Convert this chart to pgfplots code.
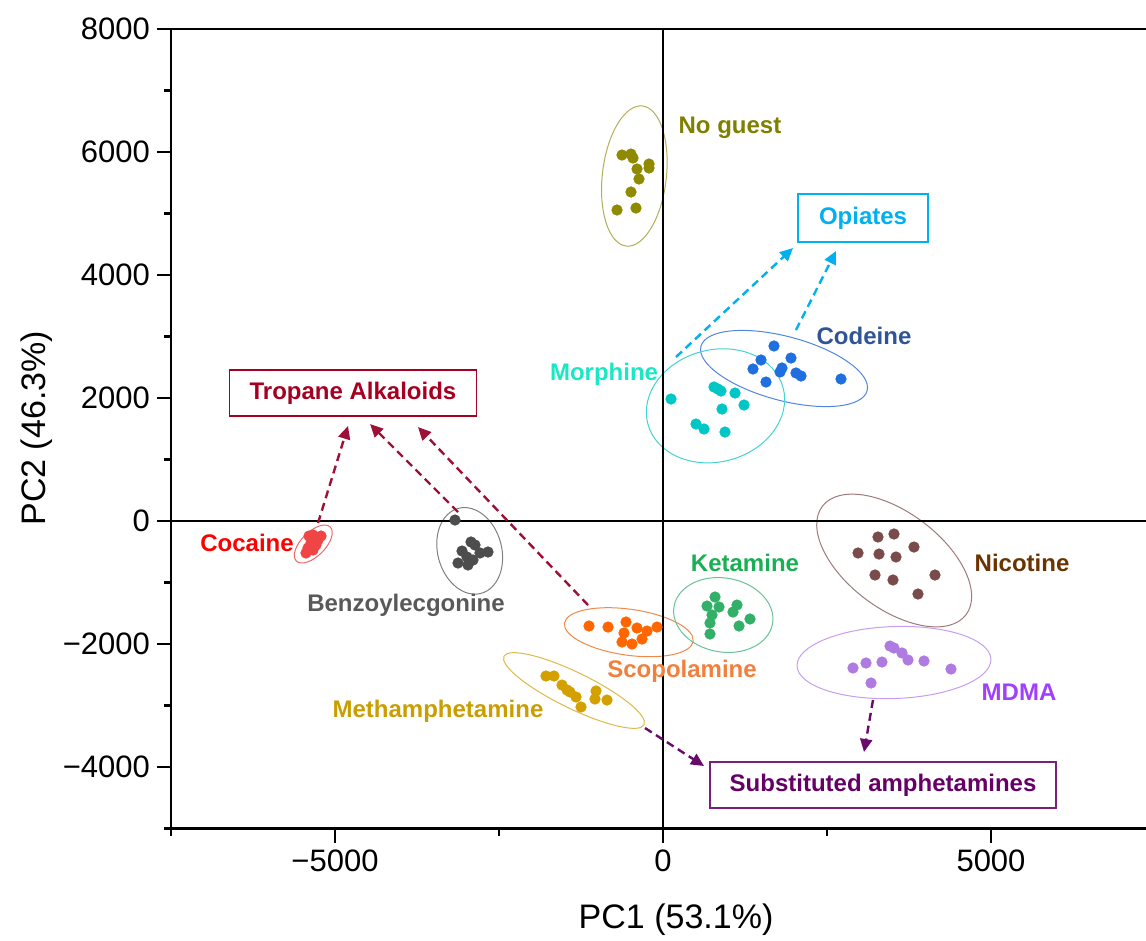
\documentclass[border=0pt]{standalone}
\usepackage{pgfplots}
\pgfplotsset{compat=1.18}
\usepackage{fontspec}
\setmainfont{Liberation Sans}
\usetikzlibrary{arrows.meta,shapes.geometric}

\definecolor{ngP}{HTML}{8F8A00}\definecolor{ngT}{HTML}{808000}\definecolor{ngE}{HTML}{B3AD5A}
\definecolor{opi}{HTML}{00B0F0}
\definecolor{coT}{HTML}{2F5597}\definecolor{coP}{HTML}{1F6FE0}\definecolor{coE}{HTML}{4F86E0}
\definecolor{moT}{HTML}{1AE8C4}\definecolor{moP}{HTML}{00C6C6}\definecolor{moE}{HTML}{45D2D2}
\definecolor{tro}{HTML}{A50021}\definecolor{troA}{HTML}{9E1035}
\definecolor{ccT}{HTML}{FF0000}\definecolor{ccP}{HTML}{F04545}\definecolor{ccE}{HTML}{F06666}
\definecolor{bzT}{HTML}{595959}\definecolor{bzP}{HTML}{4D4D4D}\definecolor{bzE}{HTML}{808080}
\definecolor{scT}{HTML}{F0803C}\definecolor{scP}{HTML}{FF6600}\definecolor{scE}{HTML}{F08848}
\definecolor{ktT}{HTML}{1AAF54}\definecolor{ktP}{HTML}{33B068}\definecolor{ktE}{HTML}{66C495}
\definecolor{mtT}{HTML}{C99E00}\definecolor{mtP}{HTML}{D4A000}\definecolor{mtE}{HTML}{DDB94A}
\definecolor{niT}{HTML}{6B3300}\definecolor{niP}{HTML}{7A4B4B}\definecolor{niE}{HTML}{A07A7A}
\definecolor{mdT}{HTML}{A040FF}\definecolor{mdP}{HTML}{B07BE0}\definecolor{mdE}{HTML}{C79DF0}
\definecolor{suT}{HTML}{660066}\definecolor{suB}{HTML}{7B1F7B}\definecolor{suA}{HTML}{6A0A6A}

\tikzset{
  lab/.style={font=\bfseries\fontsize{12}{14}\selectfont, inner sep=0pt},
  ell/.style={draw, ellipse, inner sep=0pt, line width=0.5pt},
  arr/.style={dashed, dash pattern=on 4pt off 2.5pt, line width=1.2pt, -{Triangle[length=6.5pt,width=6pt]}},
}

\begin{document}
\begin{tikzpicture}
\begin{axis}[
  scale only axis,
  width=487.5pt, height=399.75pt,
  xmin=-7500, xmax=7363, ymin=-5000, ymax=8000,
  clip=false,
  axis line style={draw=none},
  tick align=outside,
  xtick pos=bottom, ytick pos=left,
  major tick length=7pt, minor tick length=3.5pt,
  every tick/.style={black, line width=1.1pt},
  xtick={-5000,0,5000}, xticklabels={−5000,0,5000},
  ytick={-4000,-2000,0,2000,4000,6000,8000},
  yticklabels={−4000,−2000,0,2000,4000,6000,8000},
  minor xtick={-7500,-2500,2500},
  minor ytick={-5000,-3000,-1000,1000,3000,5000,7000},
  tick label style={font=\fontsize{15.5}{18}\selectfont},
  xlabel={PC1 (53.1\%)}, ylabel={PC2 (46.3\%)},
  label style={font=\fontsize{17}{20}\selectfont},
  xlabel style={at={(axis description cs:0.518,-0.114)}, anchor=center},
  ylabel style={at={(axis description cs:-0.1376,0.5006)}, anchor=center, rotate=0},
]
% frame (left, bottom, top)
\draw[black, line width=1.2pt] (rel axis cs:1,1) -- (rel axis cs:0,1) -- (rel axis cs:0,0) -- (rel axis cs:1,0);

% ellipses
\node[ell, draw=ngE, minimum width=70.5pt, minimum height=32pt, rotate=83.4] at (axis cs:-437,5610) {};
\node[ell, draw=coE, minimum width=86pt, minimum height=32pt, rotate=-15] at (axis cs:1845,2480) {};
\node[ell, draw=moE, minimum width=70pt, minimum height=56pt, rotate=15] at (axis cs:800,1873) {};
\node[ell, draw=ccE, minimum width=24pt, minimum height=12pt, rotate=45] at (axis cs:-5331,-374) {};
\node[ell, draw=bzE, minimum width=44pt, minimum height=32pt, rotate=105] at (axis cs:-2947,-485) {};
\node[ell, draw=scE, minimum width=65pt, minimum height=23pt, rotate=-8] at (axis cs:-521,-1808) {};
\node[ell, draw=ktE, minimum width=50pt, minimum height=37pt, rotate=-10] at (axis cs:919,-1528) {};
\node[ell, draw=mtE, minimum width=78pt, minimum height=18pt, rotate=-26] at (axis cs:-1357,-2756) {};
\node[ell, draw=niE, minimum width=90pt, minimum height=48pt, rotate=-37] at (axis cs:3524,-642) {};
\node[ell, draw=mdE, minimum width=97pt, minimum height=36pt, rotate=2] at (axis cs:3521,-2301) {};

% zero lines
\draw[black, line width=1.4pt] (axis cs:0,-5000) -- (axis cs:0,8000);
\draw[black, line width=1.4pt] (axis cs:-7500,0) -- (axis cs:7363,0);

% data
\addplot[only marks, mark=*, mark size=2.6pt, color=ngP] coordinates {
(-625,5951) (-488,5967) (-457,5902) (-213,5805) (-213,5740) (-396,5724) (-366,5561) (-488,5350) (-701,5057) (-412,5089)};
\addplot[only marks, mark=*, mark size=2.6pt, color=coP] coordinates {
(1692,2846) (1494,2618) (1951,2650) (1372,2472) (1814,2488) (1784,2423) (1570,2260) (2027,2407) (2104,2358) (2713,2309)};
\addplot[only marks, mark=*, mark size=2.6pt, color=moP] coordinates {
(122,1984) (777,2179) (838,2146) (884,2114) (1098,2081) (1235,1886) (899,1821) (503,1577) (625,1496) (945,1447)};
\addplot[only marks, mark=*, mark size=2.6pt, color=ccP] coordinates {
(-5396,-244) (-5335,-228) (-5213,-244) (-5259,-309) (-5366,-358) (-5290,-390) (-5412,-439) (-5335,-472) (-5442,-520)};
\addplot[only marks, mark=*, mark size=2.6pt, color=bzP] coordinates {
(-3171,16) (-2927,-341) (-2866,-390) (-3064,-488) (-2790,-520) (-2668,-504) (-2988,-585) (-3125,-683) (-2973,-715) (-2896,-634)};
\addplot[only marks, mark=*, mark size=2.6pt, color=scP] coordinates {
(-1128,-1707) (-838,-1724) (-564,-1642) (-396,-1740) (-244,-1789) (-91,-1724) (-595,-1821) (-320,-1919) (-625,-1967) (-473,-2000)};
\addplot[only marks, mark=*, mark size=2.6pt, color=ktP] coordinates {
(793,-1236) (671,-1382) (854,-1398) (1128,-1366) (1067,-1480) (747,-1528) (716,-1659) (1326,-1593) (1159,-1707) (716,-1837)};
\addplot[only marks, mark=*, mark size=2.6pt, color=mtP] coordinates {
(-1784,-2520) (-1662,-2520) (-1540,-2667) (-1463,-2748) (-1326,-2862) (-1250,-3024) (-1021,-2764) (-1037,-2894) (-854,-2911) (-1418,-2780)};
\addplot[only marks, mark=*, mark size=2.6pt, color=niP] coordinates {
(3277,-260) (3521,-211) (3826,-423) (2973,-520) (3293,-537) (3552,-585) (3232,-878) (3506,-959) (4146,-878) (3887,-1187)};
\addplot[only marks, mark=*, mark size=2.6pt, color=mdP] coordinates {
(3460,-2033) (3521,-2065) (3643,-2146) (3735,-2260) (3979,-2276) (3338,-2293) (3095,-2309) (2896,-2390) (4390,-2407) (3171,-2634)};

% arrows
\draw[arr, opi] (axis cs:198,2667) -- (axis cs:1982,4439);
\draw[arr, opi] (axis cs:2027,3106) -- (axis cs:2637,4390);
\draw[arr, troA] (axis cs:-5259,-33) -- (axis cs:-4802,1545);
\draw[arr, troA] (axis cs:-3125,146) -- (axis cs:-4466,1577);
\draw[arr, troA] (axis cs:-1143,-1366) -- (axis cs:-3735,1528);
\draw[arr, suA] (axis cs:-274,-3366) -- (axis cs:625,-3984);
\draw[arr, suA] (axis cs:3201,-2911) -- (axis cs:3064,-3756);

% labels
\node[lab, ngT] at (axis cs:1021,6390) {No guest};
\node[lab, opi, draw=opi, line width=0.6pt, minimum width=65pt, minimum height=24pt] at (axis cs:3049,4927) {Opiates};
\node[lab, coT] at (axis cs:3064,3008) {Codeine};
\node[lab, moT] at (axis cs:-899,2390) {Morphine};
\node[lab, tro, draw=tro, line width=0.6pt, minimum width=123.5pt, minimum height=23pt] at (axis cs:-4726,2081) {Tropane Alkaloids};
\node[lab, ccT] at (axis cs:-6341,-358) {Cocaine};
\node[lab, bzT] at (axis cs:-3918,-1366) {Benzoylecgonine};
\node[lab, ktT] at (axis cs:1250,-683) {Ketamine};
\node[lab, niT] at (axis cs:5473,-683) {Nicotine};
\node[lab, scT] at (axis cs:290,-2439) {Scopolamine};
\node[lab, mdT] at (axis cs:5427,-2780) {MDMA};
\node[lab, mtT] at (axis cs:-3430,-3089) {Methamphetamine};
\node[lab, suT, draw=suB, line width=0.6pt, minimum width=173pt, minimum height=23pt] at (axis cs:3354,-4293) {Substituted amphetamines};

\coordinate (BL) at (axis cs:-10107,-6813);
\coordinate (TR) at (axis cs:7363,8472);
\end{axis}
\pgfresetboundingbox
\path[use as bounding box] (BL) rectangle (TR);
\end{tikzpicture}
\end{document}
